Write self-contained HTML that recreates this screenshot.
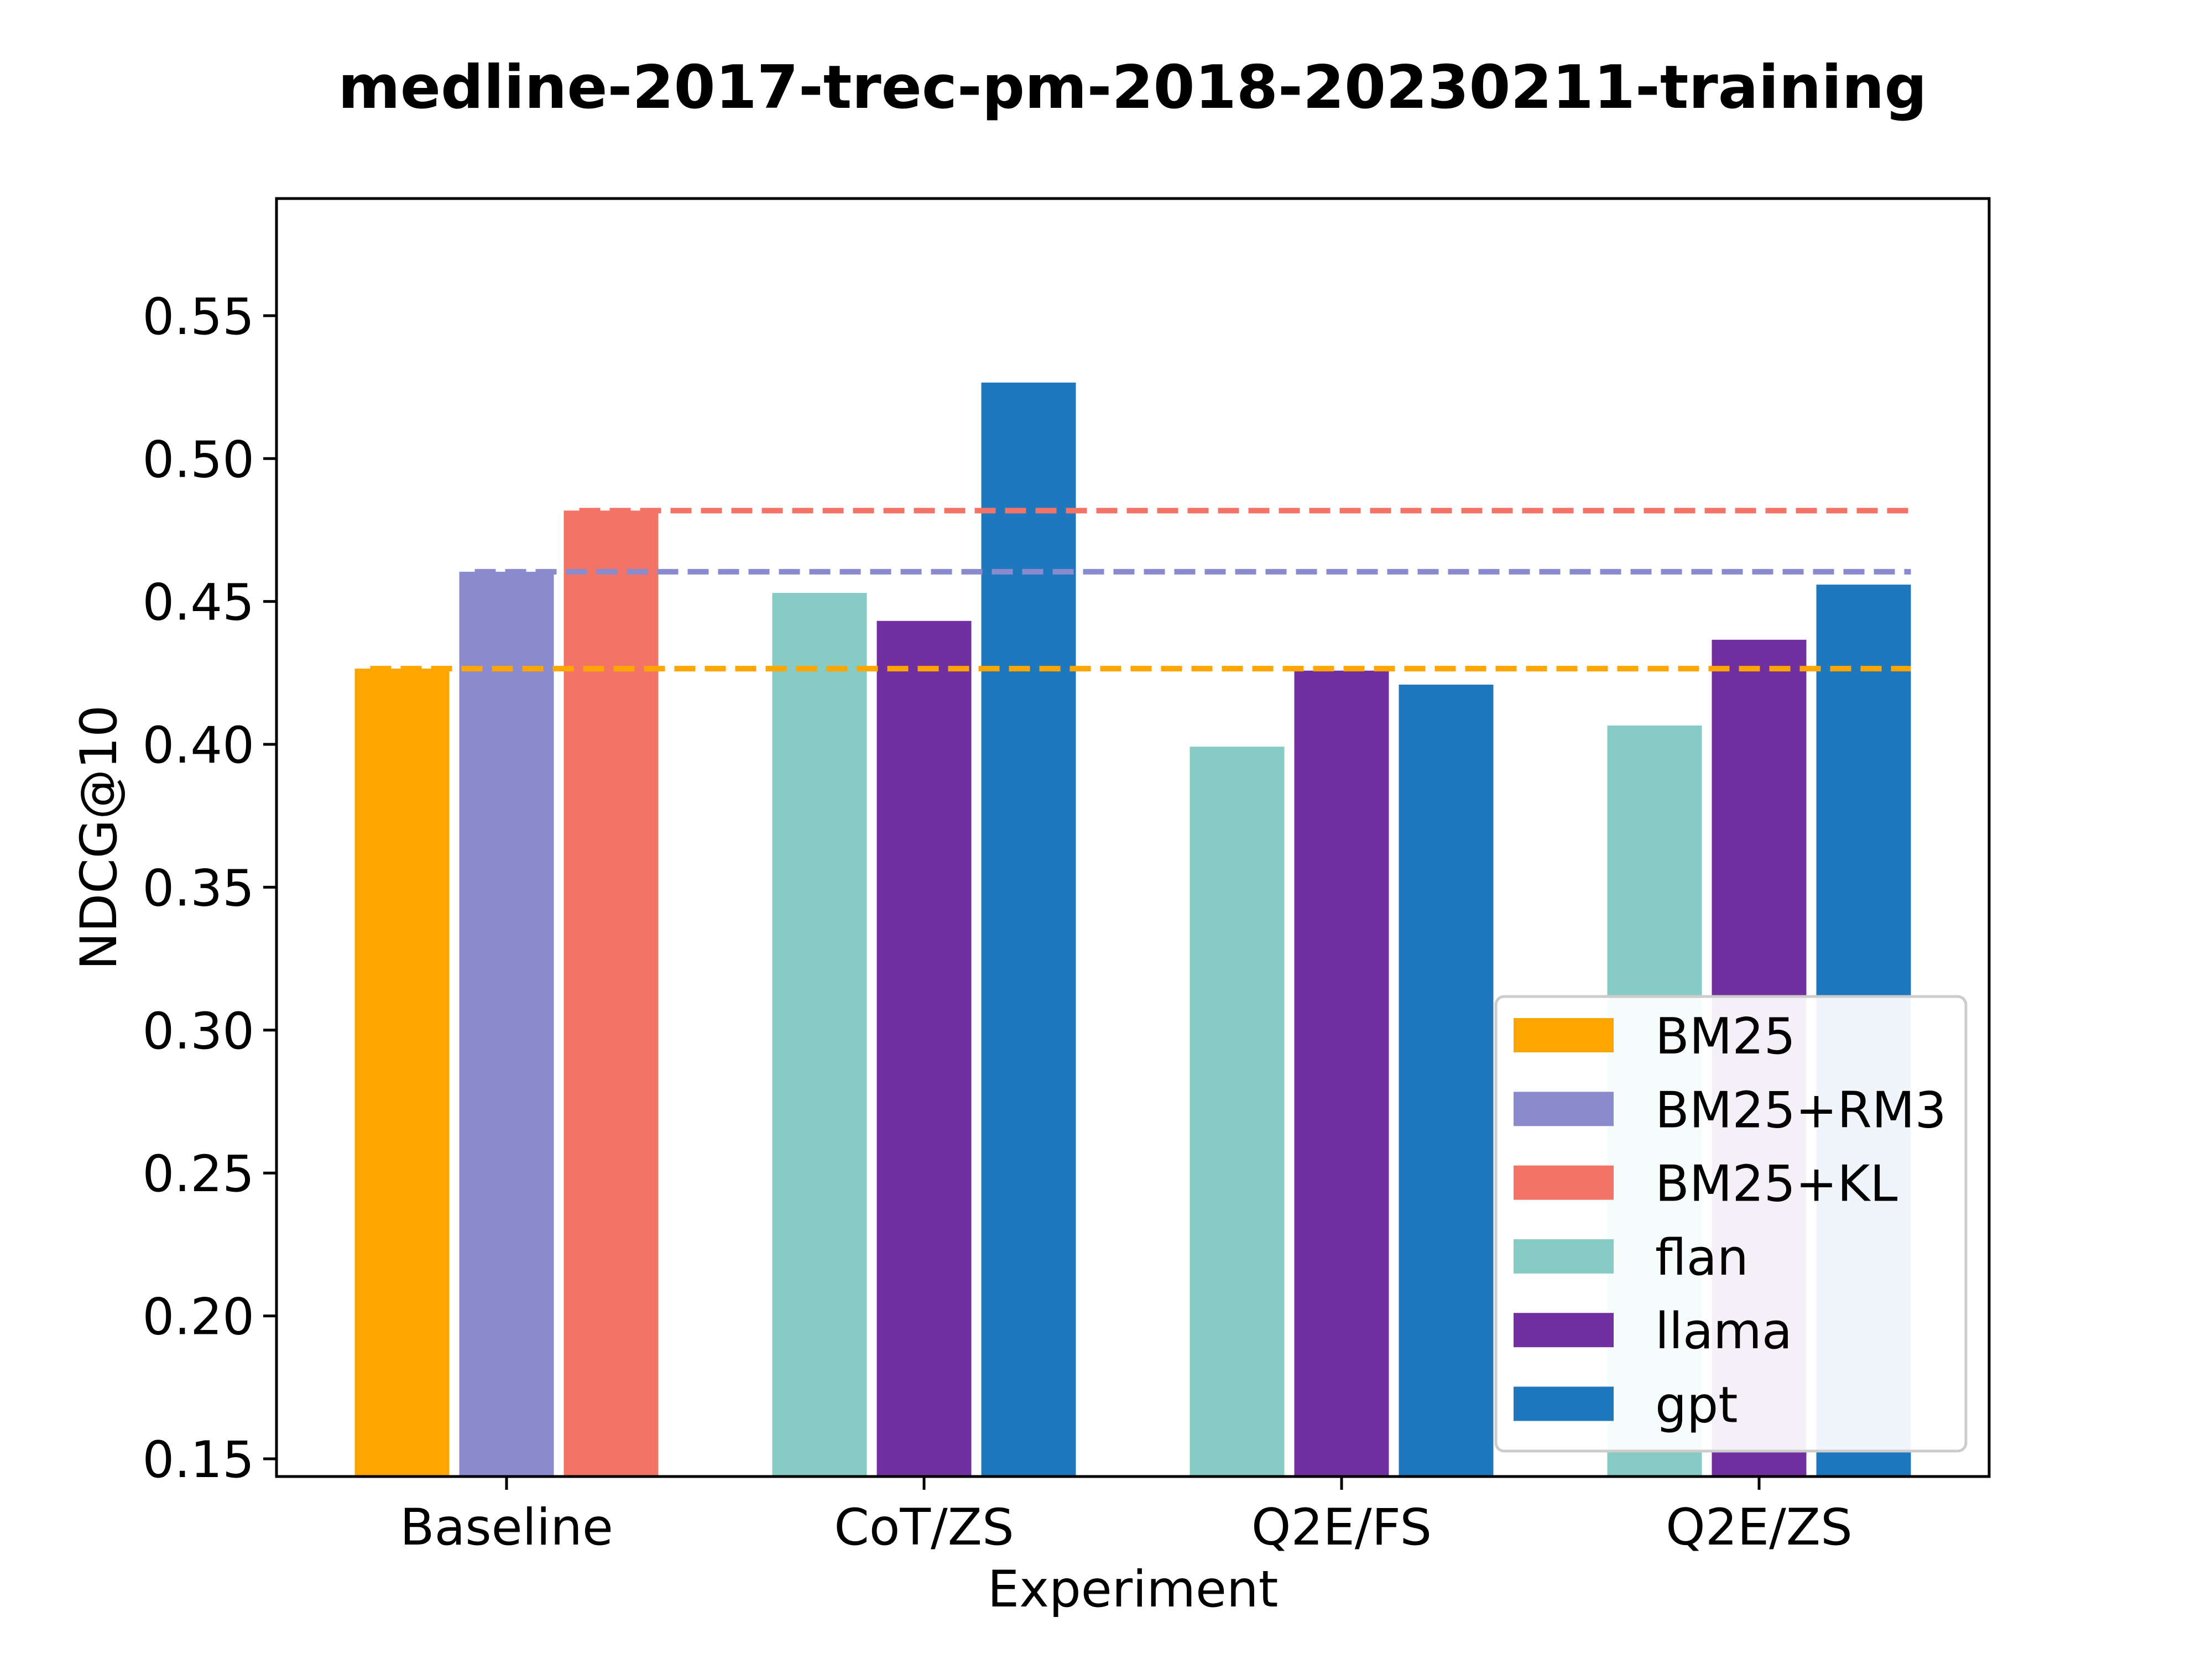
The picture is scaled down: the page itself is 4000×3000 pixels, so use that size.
<!DOCTYPE html>
<html><head><meta charset="utf-8"><style>
html,body{margin:0;padding:0;background:#fff;}
svg{display:block;font-family:"DejaVu Sans","Liberation Sans",sans-serif;}
</style></head><body>
<svg id="chart" width="4000" height="3000" viewBox="0 0 4000 3000" xmlns="http://www.w3.org/2000/svg">
<rect width="4000" height="3000" fill="#fff"/>
<text x="2048" y="195" text-anchor="middle" font-size="108" font-weight="bold">medline-2017-trec-pm-2018-20230211-training</text>
<g id="plot"></g>
</svg>
<script>
const categories = ["Baseline", "CoT/ZS", "Q2E/FS", "Q2E/ZS"];
const seriesNames = ["BM25", "BM25+RM3", "BM25+KL", "flan", "llama", "gpt"];
const seriesColors = ["#ffa500", "#8a8bce", "#f37367", "#86cbc4", "#7030a0", "#1f77bd"];
const baselineValues = [0.4265, 0.4604, 0.4818];
const flanValues = [0.4530, 0.3992, 0.4066];
const llamaValues = [0.4432, 0.4258, 0.4366];
const gptValues = [0.5266, 0.4209, 0.4559];
const yTicks = [0.15, 0.20, 0.25, 0.30, 0.35, 0.40, 0.45, 0.50, 0.55];
const yMin = 0.1438, yMax = 0.591;

const NS = "http://www.w3.org/2000/svg";
const L = 500, R = 3597, T = 359, B = 2670;
const g = document.getElementById("plot");
function y(v){ return B - (v - yMin) / (yMax - yMin) * (B - T); }
const groupStep = 755, firstCenter = 916, barStep = 189, barW = 171;
function xc(i){ return firstCenter + i * groupStep; }
function mk(tag, attrs){ const e = document.createElementNS(NS, tag); for (const k in attrs) e.setAttribute(k, attrs[k]); g.appendChild(e); return e; }

function bar(ci, slot, v, color){
  const cx = xc(ci) + (slot - 1) * barStep;
  const r = mk("rect", {x: cx - barW/2, y: y(v), width: barW, height: B - y(v), fill: color});
  
  
}
baselineValues.forEach((v, i) => bar(0, i, v, seriesColors[i]));
flanValues.forEach((v, i) => bar(i + 1, 0, v, seriesColors[3]));
llamaValues.forEach((v, i) => bar(i + 1, 1, v, seriesColors[4]));
gptValues.forEach((v, i) => bar(i + 1, 2, v, seriesColors[5]));

// dashed baseline reference lines
const xEnd = xc(3) + barStep + barW/2;
baselineValues.forEach((v, i) => {
  const xStart = xc(0) + (i - 1) * barStep - barW/2 + 28;
  const l = mk("line", {x1: xStart, x2: xEnd, y1: y(v), y2: y(v), stroke: seriesColors[i], "stroke-width": 10, "stroke-dasharray": "38 17"});
  
  
});

// y ticks
yTicks.forEach(t => {
  const tk = mk("line", {x1: L - 24, x2: L, y1: y(t), y2: y(t), stroke: "#000", "stroke-width": 5});
  
  
  const tx = mk("text", {x: L - 40, y: y(t) + 33, "text-anchor": "end", "font-size": 91});
  tx.textContent = t.toFixed(2);
  
  
});
// x ticks
categories.forEach((c, i) => {
  const tk = mk("line", {x1: xc(i), x2: xc(i), y1: B, y2: B + 24, stroke: "#000", "stroke-width": 5});
  
  
  const tx = mk("text", {x: xc(i), y: B + 123, "text-anchor": "middle", "font-size": 91});
  tx.textContent = c;
  
  
});
// frame
const fr = mk("rect", {x: L, y: T, width: R - L, height: B - T, fill: "none", stroke: "#000", "stroke-width": 5});



const xl = mk("text", {x: (L + R)/2, y: 2905, "text-anchor": "middle", "font-size": 91});
xl.textContent = "Experiment";


const yl = mk("text", {x: 0, y: 0, "text-anchor": "middle", "font-size": 91, transform: "translate(210," + (T + B)/2 + ") rotate(-90)"});
yl.textContent = "NDCG@10";



// legend
const lg = mk("rect", {x: 2705, y: 1802, width: 850, height: 822, rx: 15, fill: "rgba(255,255,255,0.93)", stroke: "#cccccc", "stroke-width": 5});


seriesNames.forEach((n, i) => {
  const cy = 1872 + i * 133.3;
  const p = mk("rect", {x: 2737, y: cy - 31, width: 181, height: 62, fill: seriesColors[i]});
  
  
  const t = mk("text", {x: 2993, y: cy + 33, "font-size": 90});
  t.textContent = n;
  
  
});
</script>
</body></html>
